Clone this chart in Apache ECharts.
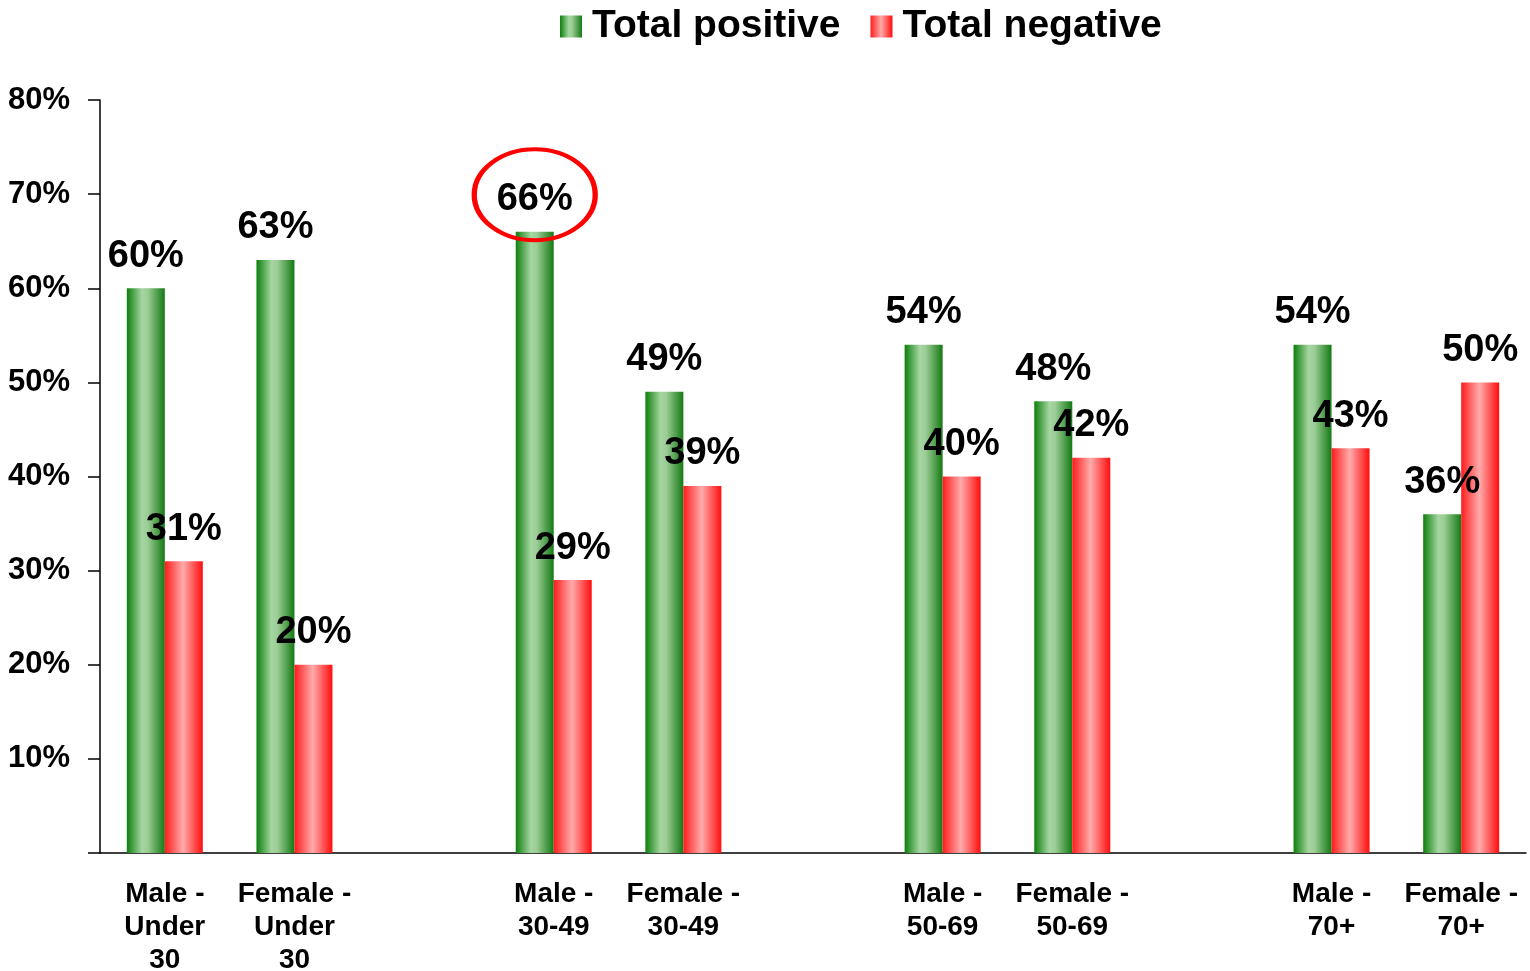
<!DOCTYPE html>
<html lang="en">
<head>
    <meta charset="UTF-8">
    <title>Positive / negative by group</title>
    <script src="https://cdn.jsdelivr.net/npm/echarts@6/dist/echarts.min.js"></script>
</head>
<style>
html,body{margin:0;padding:0;background:#fff;}
#chartBox{width:1530px;height:971px;}
</style>
<body>
    <div id="chartBox"></div>
</body>
<script>
// categories, blank slots keep the gaps between age groups
const categories = ['Male -\nUnder\n30', 'Female -\nUnder\n30', '', 'Male -\n30-49', 'Female -\n30-49', '',
    'Male -\n50-69', 'Female -\n50-69', '', 'Male -\n70+', 'Female -\n70+'];
const totalPositive = [60, 63, null, 66, 49, null, 54, 48, null, 54, 36];
const totalNegative = [31, 20, null, 29, 39, null, 40, 42, null, 43, 50];
const yTicks = [0, 10, 20, 30, 40, 50, 60, 70, 80];
// the highlighted value (category index, value)
const highlight = [[3, 66]];

const FONT = '"Liberation Sans", Arial, sans-serif';
const BAR_W = 38;

const greenFill = new echarts.graphic.LinearGradient(0, 0, 1, 0, [
    {offset: 0, color: '#0c7f0c'},
    {offset: 0.4, color: '#a6d6a1'},
    {offset: 0.55, color: '#9ccd96'},
    {offset: 1, color: '#137a13'}
]);
const redFill = new echarts.graphic.LinearGradient(0, 0, 1, 0, [
    {offset: 0, color: '#ff1c1c'},
    {offset: 0.48, color: '#ffabab'},
    {offset: 1, color: '#ff0d0d'}
]);

const barLabel = {
    show: true,
    position: 'top',
    distance: 13,
    color: '#000',
    fontFamily: FONT,
    fontWeight: 'bold',
    fontSize: 38,
    formatter: p => p.value + '%'
};

let chartObj = echarts.init(document.getElementById('chartBox'));
chartObj.setOption({
    animation: false,
    grid: {
        left: 100,
        right: 4,
        top: 100,
        bottom: 118,
        containLabel: false,
        outerBoundsMode: 'none'
    },
    legend: {
        left: 555,
        top: 2,
        icon: 'rect',
        itemWidth: 22,
        itemHeight: 22,
        itemGap: 30,
        data: ['Total positive', 'Total negative'],
        textStyle: {
            color: '#000',
            fontFamily: FONT,
            fontWeight: 'bold',
            fontSize: 39,
            padding: [0, 0, 0, 5]
        }
    },
    xAxis: {
        type: 'category',
        data: categories,
        axisLine: {lineStyle: {color: '#000', width: 1.5}},
        axisTick: {length: 7, lineStyle: {color: '#000', width: 1.5}},
        axisLabel: {
            interval: 0,
            margin: 25,
            color: '#000',
            fontFamily: FONT,
            fontWeight: 'bold',
            fontSize: 28,
            lineHeight: 33
        }
    },
    yAxis: {
        type: 'value',
        min: yTicks[0],
        max: yTicks[yTicks.length - 1],
        interval: 10,
        splitLine: {show: false},
        axisLine: {show: true, lineStyle: {color: '#000', width: 1.5}},
        axisTick: {show: true, length: 12, lineStyle: {color: '#000', width: 1.5}},
        axisLabel: {
            margin: 30,
            color: '#000',
            fontFamily: FONT,
            fontWeight: 'bold',
            fontSize: 31,
            formatter: v => v === 0 ? '' : v + '%'
        }
    },
    series: [
        {
            type: 'bar',
            name: 'Total positive',
            barWidth: BAR_W,
            barGap: '0%',
            itemStyle: {color: greenFill},
            label: barLabel,
            data: totalPositive
        },
        {
            type: 'bar',
            name: 'Total negative',
            barWidth: BAR_W,
            barGap: '0%',
            itemStyle: {color: redFill},
            label: barLabel,
            data: totalNegative
        },
        {
            // red ring around the highlighted label
            type: 'custom',
            name: 'highlight',
            silent: true,
            z: 10,
            data: highlight,
            renderItem: function (params, api) {
                let p = api.coord([api.value(0), api.value(1)]);
                return {
                    type: 'circle',
                    x: p[0] - BAR_W / 2,
                    y: p[1] - 37,
                    scaleX: 60.5 / 45.5,
                    shape: {cx: 0, cy: 0, r: 45.5},
                    style: {fill: 'none', stroke: '#ff0000', lineWidth: 4, strokeNoScale: true}
                };
            }
        }
    ]
});
</script>
</html>
